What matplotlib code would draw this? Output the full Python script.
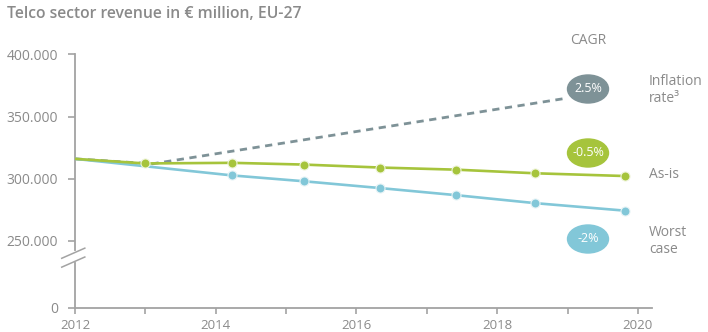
import matplotlib
matplotlib.use("Agg")
import matplotlib.pyplot as plt
from matplotlib.patches import Ellipse

plt.rcParams["font.family"] = ["Open Sans", "DejaVu Sans"]

# Revenue scenarios, EUR million
years_as_is = [2012, 2013.0, 2014.23, 2015.25, 2016.34, 2017.42, 2018.54, 2019.81]
revenue_as_is = [316000, 312300, 312800, 311400, 309000, 307300, 304400, 302200]

years_worst = [2012, 2014.23, 2015.25, 2016.34, 2017.42, 2018.54, 2019.81]
revenue_worst = [316000, 302700, 298000, 292500, 286800, 280400, 274400]

years_inflation = [2012, 2013.1, 2018.96]
revenue_inflation = [316000, 312000, 364500]

# the value axis is broken: its floor is labelled 0
AXIS_FLOOR = 196400
y_ticks = [AXIS_FLOOR, 250000, 300000, 350000, 400000]
y_tick_labels = ["0", "250.000", "300.000", "350.000", "400.000"]
x_ticks = [2012, 2014, 2016, 2018, 2020]

scenario_labels = ["Inflation\nrate³", "As-is", "Worst\ncase"]
cagr_labels = ["2.5%", "-0.5%", "-2%"]

GREEN = "#a6c43c"
BLUE = "#82c7d8"
GREY = "#7e9297"
TEXT = "#8a8a8a"
AXIS = "#a3a3a3"

W, H = 708, 332
fig = plt.figure(figsize=(W / 100, H / 100), dpi=100)
ax = fig.add_axes([75 / W, 24.3 / H, 577 / W, 253.4 / H])

ax.plot(years_inflation, revenue_inflation, color=GREY, lw=2.0,
        ls=(0, (2.6, 2.0)), zorder=2)
ax.plot(years_worst, revenue_worst, color=BLUE, lw=1.9, zorder=3)
ax.plot(years_worst[1:], revenue_worst[1:], "o", color=BLUE, ms=6.5,
        mec="#e6f3f6", mew=0.8, zorder=4)
ax.plot(years_as_is, revenue_as_is, color=GREEN, lw=1.9, zorder=3)
ax.plot(years_as_is[1:], revenue_as_is[1:], "o", color=GREEN, ms=6.5,
        mec="#eef4da", mew=0.8, zorder=4)

ax.set_xlim(2012, 2020.2)
ax.set_ylim(AXIS_FLOOR, 400000)
ax.set_xticks(x_ticks)
ax.set_xticks([2013, 2015, 2017, 2019], minor=True)
ax.set_xticklabels([str(t) for t in x_ticks])
ax.set_yticks(y_ticks)
ax.set_yticklabels(y_tick_labels)

for side in ("top", "right"):
    ax.spines[side].set_visible(False)
for side in ("left", "bottom"):
    ax.spines[side].set_color(AXIS)
    ax.spines[side].set_linewidth(1.3)

ax.tick_params(axis="both", which="both", colors=AXIS, width=1.2,
               labelcolor=TEXT)
ax.tick_params(axis="y", length=5, pad=7, labelsize=10)
ax.tick_params(axis="x", which="both", length=4, pad=4, labelsize=9.5)

# axis break between 0 and 250.000
ax.plot([0, 0], [0.19, 0.215], transform=ax.transAxes, color="white",
        lw=3, clip_on=False, zorder=5)
for y0 in (0.16, 0.195):
    ax.plot([-0.023, 0.017], [y0, y0 + 0.04], transform=ax.transAxes,
            color=AXIS, lw=1.1, clip_on=False, zorder=6)

fig.text(7 / W, 1 - 14 / H, "Telco sector revenue in € million, EU-27",
         color=TEXT, fontsize=11.3, fontweight="semibold", va="center")
fig.text(588 / W, 1 - 40 / H, "CAGR", color=TEXT, fontsize=10,
         ha="center", va="center")

bubble_y = [89, 153, 239]
bubble_colors = [GREY, GREEN, BLUE]
label_y = [90, 174, 241]
for by, color, cagr, ly, label in zip(bubble_y, bubble_colors, cagr_labels,
                                      label_y, scenario_labels):
    fig.patches.append(Ellipse((588 / W, 1 - by / H), 41 / W, 28 / H,
                               transform=fig.transFigure, color=color))
    fig.text(588 / W, 1 - by / H, cagr, color="white", fontsize=9,
             ha="center", va="center")
    fig.text(649 / W, 1 - ly / H, label, color=TEXT, fontsize=10,
             ha="left", va="center", linespacing=1.25)

fig.savefig("out.png", dpi=100)
